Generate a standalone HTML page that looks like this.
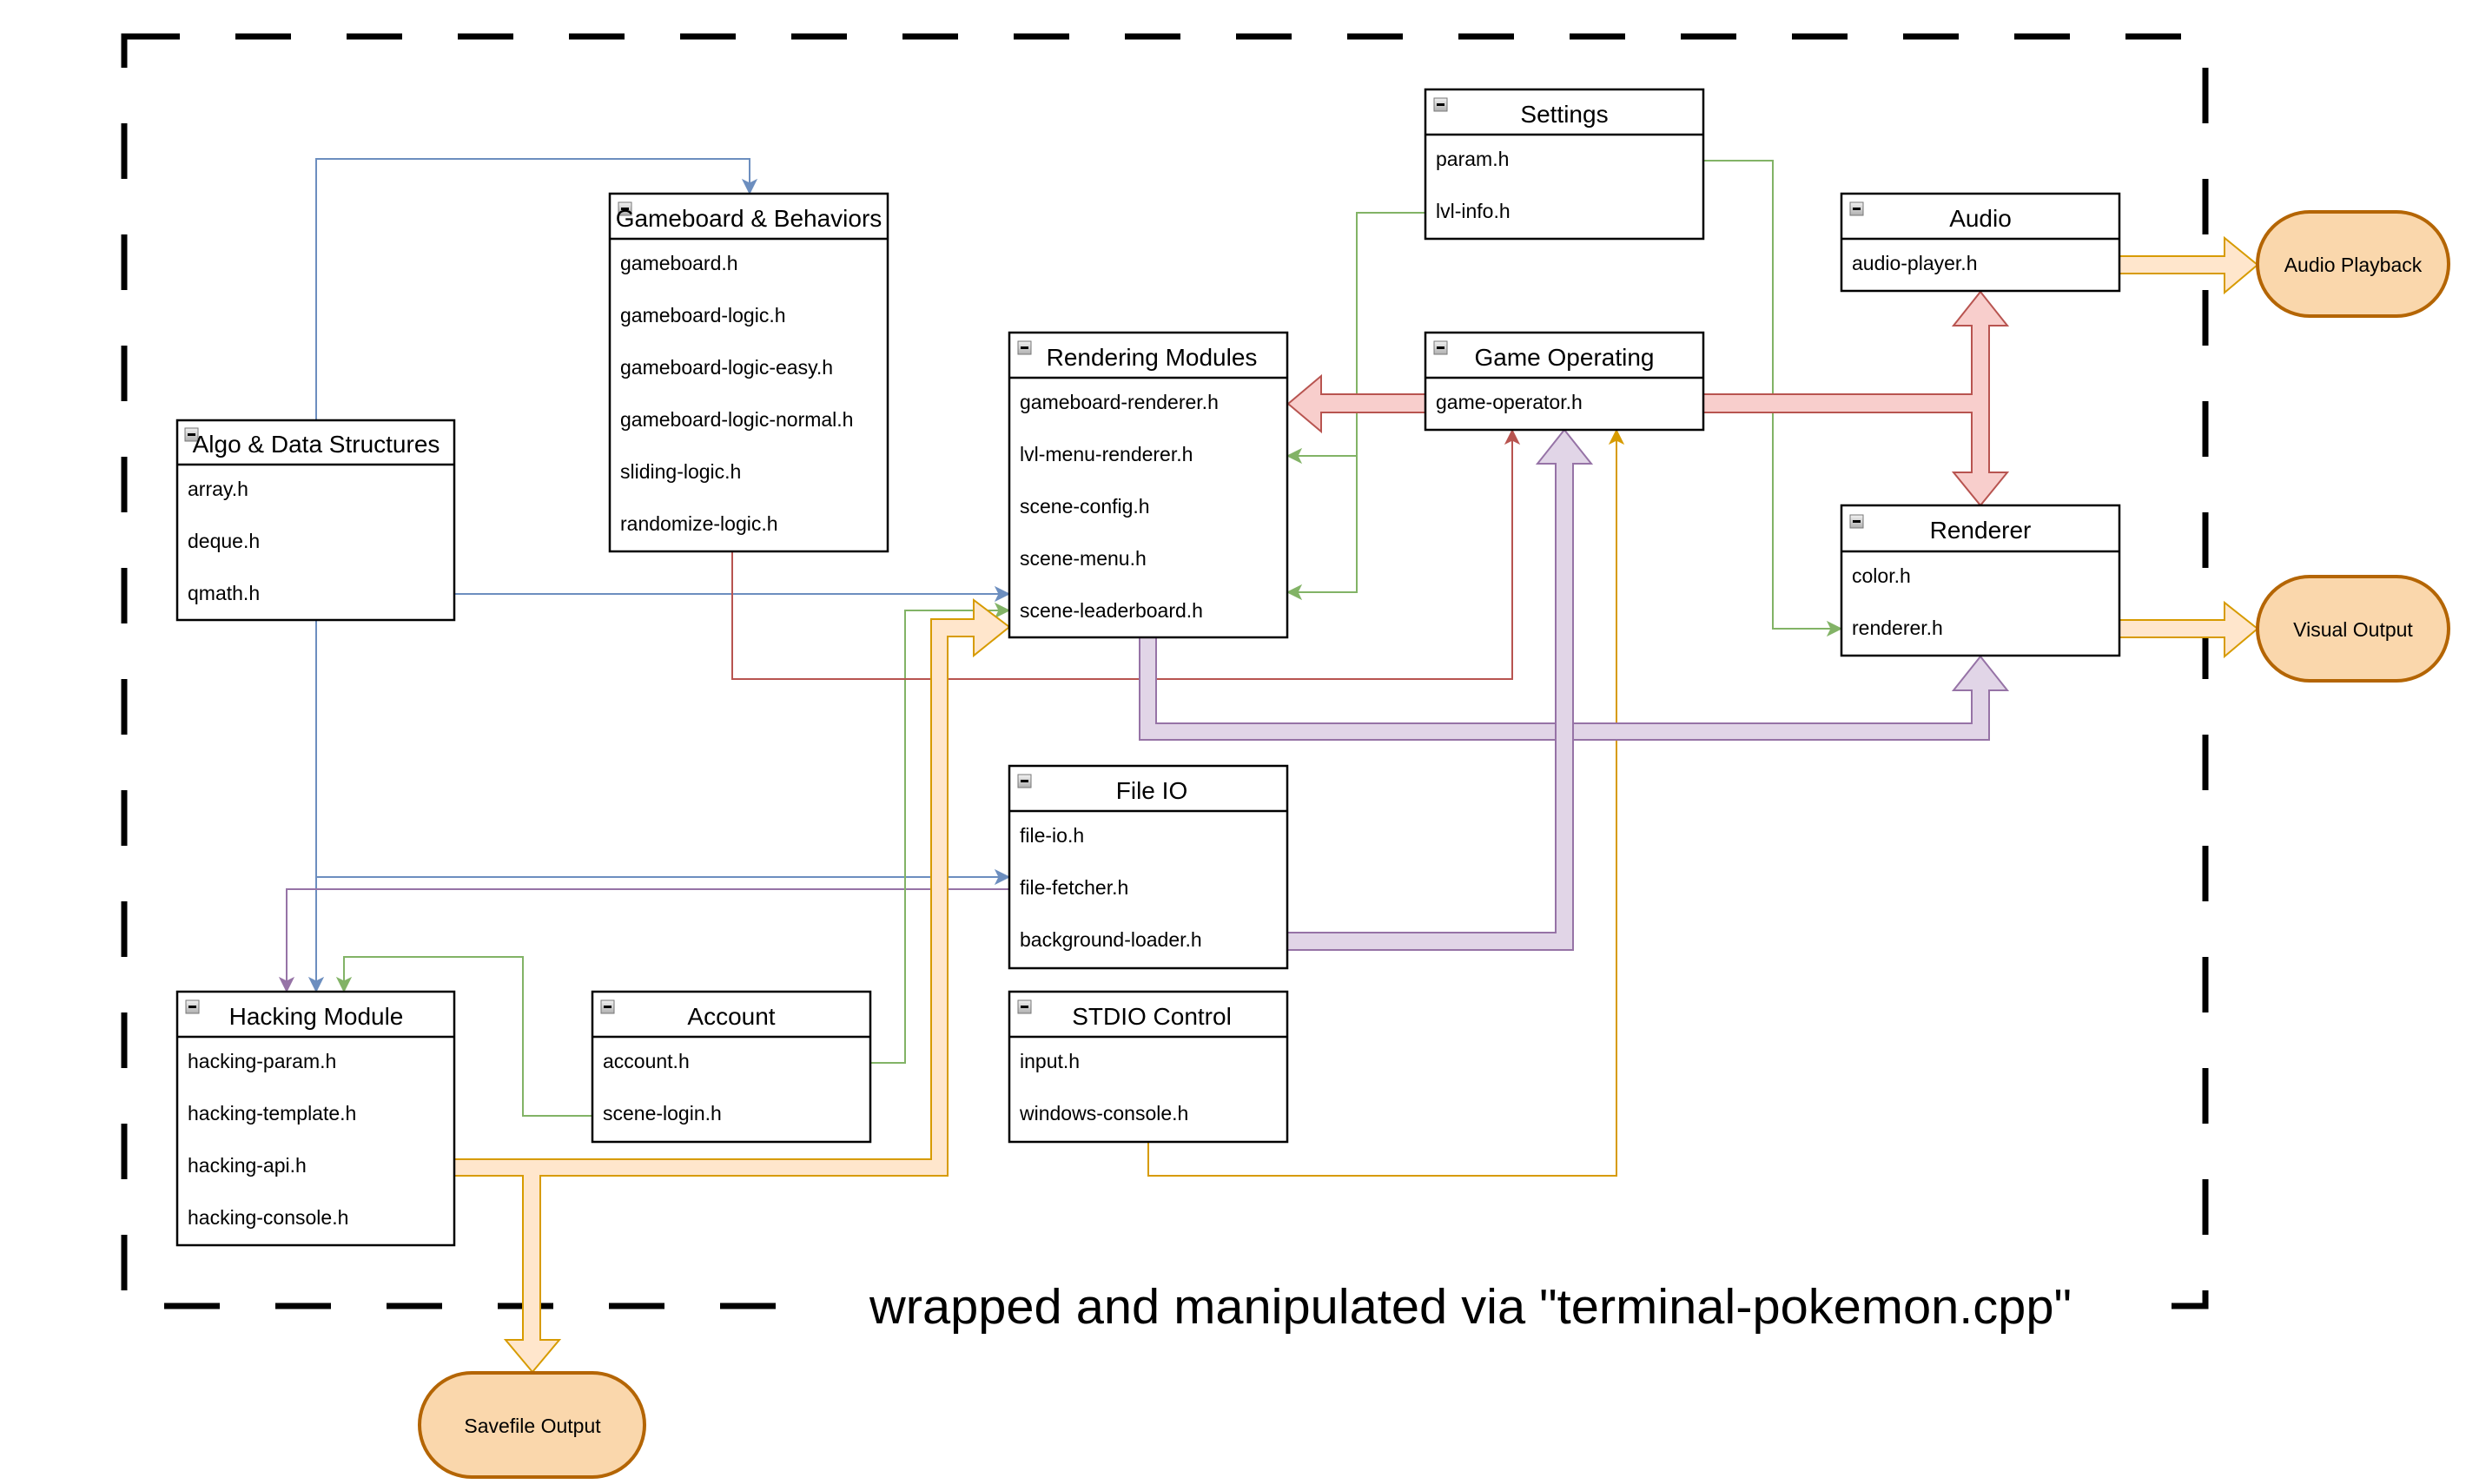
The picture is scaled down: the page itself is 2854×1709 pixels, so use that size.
<!DOCTYPE html>
<html><head><meta charset="utf-8"><style>
html,body{margin:0;padding:0;background:#fff;}
svg{display:block;}
text{font-family:"Liberation Sans",Arial,sans-serif;fill:#000;}
.h{font-size:28px;text-anchor:middle;}
.r{font-size:23px;}
.o{font-size:23px;text-anchor:middle;}
</style></head><body>
<svg width="2854" height="1709" viewBox="0 0 2854 1709" xmlns="http://www.w3.org/2000/svg">
<defs>
<linearGradient id="g" x1="0" y1="0" x2="0" y2="1"><stop offset="0" stop-color="#f2f2f2"/><stop offset="1" stop-color="#b0b0b0"/></linearGradient>
</defs>
<!-- dashed boundary -->
<rect x="143" y="42" width="2396" height="1462" fill="none" stroke="#000" stroke-width="7" stroke-dasharray="64 64"/>
<rect x="905" y="1478" width="1595" height="56" fill="#fff"/>
<text x="1001" y="1524" font-size="57" textLength="1384" lengthAdjust="spacingAndGlyphs">wrapped and manipulated via "terminal-pokemon.cpp"</text>

<!-- thin connectors -->
<g fill="none" stroke-width="2">
<path d="M364 483 V183 H863 V215" stroke="#6c8ebf"/>
<path d="M523 684 H1154" stroke="#6c8ebf"/>
<path d="M364 714 V1134 M364 1010 H1154" stroke="#6c8ebf"/>
<path d="M1162 1024 H330 V1134" stroke="#9673a6"/>
<path d="M1002 1224 H1042 V703 H1154" stroke="#82b366"/>
<path d="M682 1285 H602 V1102 H396 V1134" stroke="#82b366"/>
<path d="M1641 245 H1562 V682 H1490 M1562 525 H1490" stroke="#82b366"/>
<path d="M1961 185 H2041 V724 H2112" stroke="#82b366"/>
<path d="M843 635 V782 H1741 V503" stroke="#b85450"/>
<path d="M1322 1315 V1354 H1861 V503" stroke="#d79b00"/>
</g>
<!-- arrowheads -->
<g>
<path d="M863 223 l-8 -16 l8 4 l8 -4z" fill="#6c8ebf" stroke="#6c8ebf"/>
<path d="M1162 684 l-16 -8 l4 8 l-4 8z" fill="#6c8ebf" stroke="#6c8ebf"/>
<path d="M364 1142 l-8 -16 l8 4 l8 -4z" fill="#6c8ebf" stroke="#6c8ebf"/>
<path d="M1162 1010 l-16 -8 l4 8 l-4 8z" fill="#6c8ebf" stroke="#6c8ebf"/>
<path d="M330 1142 l-8 -16 l8 4 l8 -4z" fill="#9673a6" stroke="#9673a6"/>
<path d="M1162 703 l-16 -8 l4 8 l-4 8z" fill="#82b366" stroke="#82b366"/>
<path d="M396 1142 l-8 -16 l8 4 l8 -4z" fill="#82b366" stroke="#82b366"/>
<path d="M1482 525 l16 -8 l-4 8 l4 8z" fill="#82b366" stroke="#82b366"/>
<path d="M1482 682 l16 -8 l-4 8 l4 8z" fill="#82b366" stroke="#82b366"/>
<path d="M2120 724 l-16 -8 l4 8 l-4 8z" fill="#82b366" stroke="#82b366"/>
<path d="M1741 495 l-8 16 l8 -4 l8 4z" fill="#b85450" stroke="#b85450"/>
<path d="M1861 495 l-8 16 l8 -4 l8 4z" fill="#d79b00" stroke="#d79b00"/>
</g>

<!-- thick flex arrows -->
<g stroke-width="2" stroke-linejoin="miter">
<path d="M1641 454 H1521 V433 L1483 465 L1521 497 V475 H1641 Z" fill="#f8cecc" stroke="#b85450"/>
<path d="M1961 454 H2270 V375 H2249 L2280 336 L2311 375 H2290 V544 H2311 L2280 582 L2249 544 H2270 V475 H1961 Z" fill="#f8cecc" stroke="#b85450"/>
<path d="M2440 295 H2561 V274 L2599 305 L2561 337 V315 H2440 Z" fill="#ffe6cc" stroke="#d79b00"/>
<path d="M2440 714 H2561 V694 L2599 724 L2561 756 V734 H2440 Z" fill="#ffe6cc" stroke="#d79b00"/>
<path d="M1312 734 V852 H2290 V795 H2311 L2280 756 L2249 795 H2270 V833 H1331 V734 Z" fill="#e1d5e7" stroke="#9673a6"/>
<path d="M1482 1074 H1791 V534 H1770 L1801 495 L1832 534 H1811 V1094 H1482 Z" fill="#e1d5e7" stroke="#9673a6"/>
<path d="M523 1335 H1072 V713 H1121 V691 L1162 722 L1121 755 V733 H1091 V1354 H622 V1543 H644 L613 1580 L582 1543 H602 V1354 H523 Z" fill="#ffe6cc" stroke="#d79b00"/>
</g>

<!-- boxes -->
<g fill="#fff" stroke="#000" stroke-width="2.5">
<rect x="204" y="484" width="319" height="230"/><line x1="204" y1="535" x2="523" y2="535"/>
<rect x="702" y="223" width="320" height="412"/><line x1="702" y1="275" x2="1022" y2="275"/>
<rect x="1162" y="383" width="320" height="351"/><line x1="1162" y1="435" x2="1482" y2="435"/>
<rect x="1641" y="103" width="320" height="172"/><line x1="1641" y1="155" x2="1961" y2="155"/>
<rect x="1641" y="383" width="320" height="112"/><line x1="1641" y1="435" x2="1961" y2="435"/>
<rect x="2120" y="223" width="320" height="112"/><line x1="2120" y1="275" x2="2440" y2="275"/>
<rect x="2120" y="582" width="320" height="173"/><line x1="2120" y1="635" x2="2440" y2="635"/>
<rect x="1162" y="882" width="320" height="233"/><line x1="1162" y1="934" x2="1482" y2="934"/>
<rect x="1162" y="1142" width="320" height="173"/><line x1="1162" y1="1194" x2="1482" y2="1194"/>
<rect x="204" y="1142" width="319" height="292"/><line x1="204" y1="1194" x2="523" y2="1194"/>
<rect x="682" y="1142" width="320" height="173"/><line x1="682" y1="1194" x2="1002" y2="1194"/>
</g>
<!-- minus icons -->
<g stroke="#777" stroke-width="1" fill="url(#g)">
<rect x="213" y="493" width="15" height="15"/>
<rect x="712" y="233" width="15" height="15"/>
<rect x="1172" y="393" width="15" height="15"/>
<rect x="1651" y="113" width="15" height="15"/>
<rect x="1651" y="393" width="15" height="15"/>
<rect x="2130" y="233" width="15" height="15"/>
<rect x="2130" y="593" width="15" height="15"/>
<rect x="1172" y="892" width="15" height="15"/>
<rect x="1172" y="1152" width="15" height="15"/>
<rect x="214" y="1152" width="15" height="15"/>
<rect x="692" y="1152" width="15" height="15"/>
</g>
<g fill="#000">
<rect x="216" y="499" width="9" height="3"/><rect x="715" y="239" width="9" height="3"/><rect x="1175" y="399" width="9" height="3"/>
<rect x="1654" y="119" width="9" height="3"/><rect x="1654" y="399" width="9" height="3"/><rect x="2133" y="239" width="9" height="3"/>
<rect x="2133" y="599" width="9" height="3"/><rect x="1175" y="898" width="9" height="3"/><rect x="1175" y="1158" width="9" height="3"/>
<rect x="217" y="1158" width="9" height="3"/><rect x="695" y="1158" width="9" height="3"/>
</g>

<!-- headers -->
<text class="h" x="364" y="521">Algo &amp; Data Structures</text>
<text class="h" x="862" y="261">Gameboard &amp; Behaviors</text>
<text class="h" x="1326" y="421">Rendering Modules</text>
<text class="h" x="1801" y="141">Settings</text>
<text class="h" x="1801" y="421">Game Operating</text>
<text class="h" x="2280" y="261">Audio</text>
<text class="h" x="2280" y="620">Renderer</text>
<text class="h" x="1326" y="920">File IO</text>
<text class="h" x="1326" y="1180">STDIO Control</text>
<text class="h" x="364" y="1180">Hacking Module</text>
<text class="h" x="842" y="1180">Account</text>

<!-- rows -->
<g class="r">
<text class="r" x="216" y="571">array.h</text>
<text class="r" x="216" y="631">deque.h</text>
<text class="r" x="216" y="691">qmath.h</text>
<text class="r" x="714" y="311">gameboard.h</text>
<text class="r" x="714" y="371">gameboard-logic.h</text>
<text class="r" x="714" y="431">gameboard-logic-easy.h</text>
<text class="r" x="714" y="491">gameboard-logic-normal.h</text>
<text class="r" x="714" y="551">sliding-logic.h</text>
<text class="r" x="714" y="611">randomize-logic.h</text>
<text class="r" x="1174" y="471">gameboard-renderer.h</text>
<text class="r" x="1174" y="531">lvl-menu-renderer.h</text>
<text class="r" x="1174" y="591">scene-config.h</text>
<text class="r" x="1174" y="651">scene-menu.h</text>
<text class="r" x="1174" y="711">scene-leaderboard.h</text>
<text class="r" x="1653" y="191">param.h</text>
<text class="r" x="1653" y="251">lvl-info.h</text>
<text class="r" x="1653" y="471">game-operator.h</text>
<text class="r" x="2132" y="311">audio-player.h</text>
<text class="r" x="2132" y="671">color.h</text>
<text class="r" x="2132" y="731">renderer.h</text>
<text class="r" x="1174" y="970">file-io.h</text>
<text class="r" x="1174" y="1030">file-fetcher.h</text>
<text class="r" x="1174" y="1090">background-loader.h</text>
<text class="r" x="1174" y="1230">input.h</text>
<text class="r" x="1174" y="1290">windows-console.h</text>
<text class="r" x="216" y="1230">hacking-param.h</text>
<text class="r" x="216" y="1290">hacking-template.h</text>
<text class="r" x="216" y="1350">hacking-api.h</text>
<text class="r" x="216" y="1410">hacking-console.h</text>
<text class="r" x="694" y="1230">account.h</text>
<text class="r" x="694" y="1290">scene-login.h</text>
</g>

<!-- terminals -->
<g fill="#fad7ac" stroke="#b46504" stroke-width="4">
<rect x="2599" y="244" width="220" height="120" rx="60" ry="60"/>
<rect x="2599" y="664" width="220" height="120" rx="60" ry="60"/>
<rect x="483" y="1581" width="259" height="120" rx="60" ry="60"/>
</g>
<text class="o" x="2709" y="313">Audio Playback</text>
<text class="o" x="2709" y="733">Visual Output</text>
<text class="o" x="613" y="1650">Savefile Output</text>
</svg>
</body></html>
